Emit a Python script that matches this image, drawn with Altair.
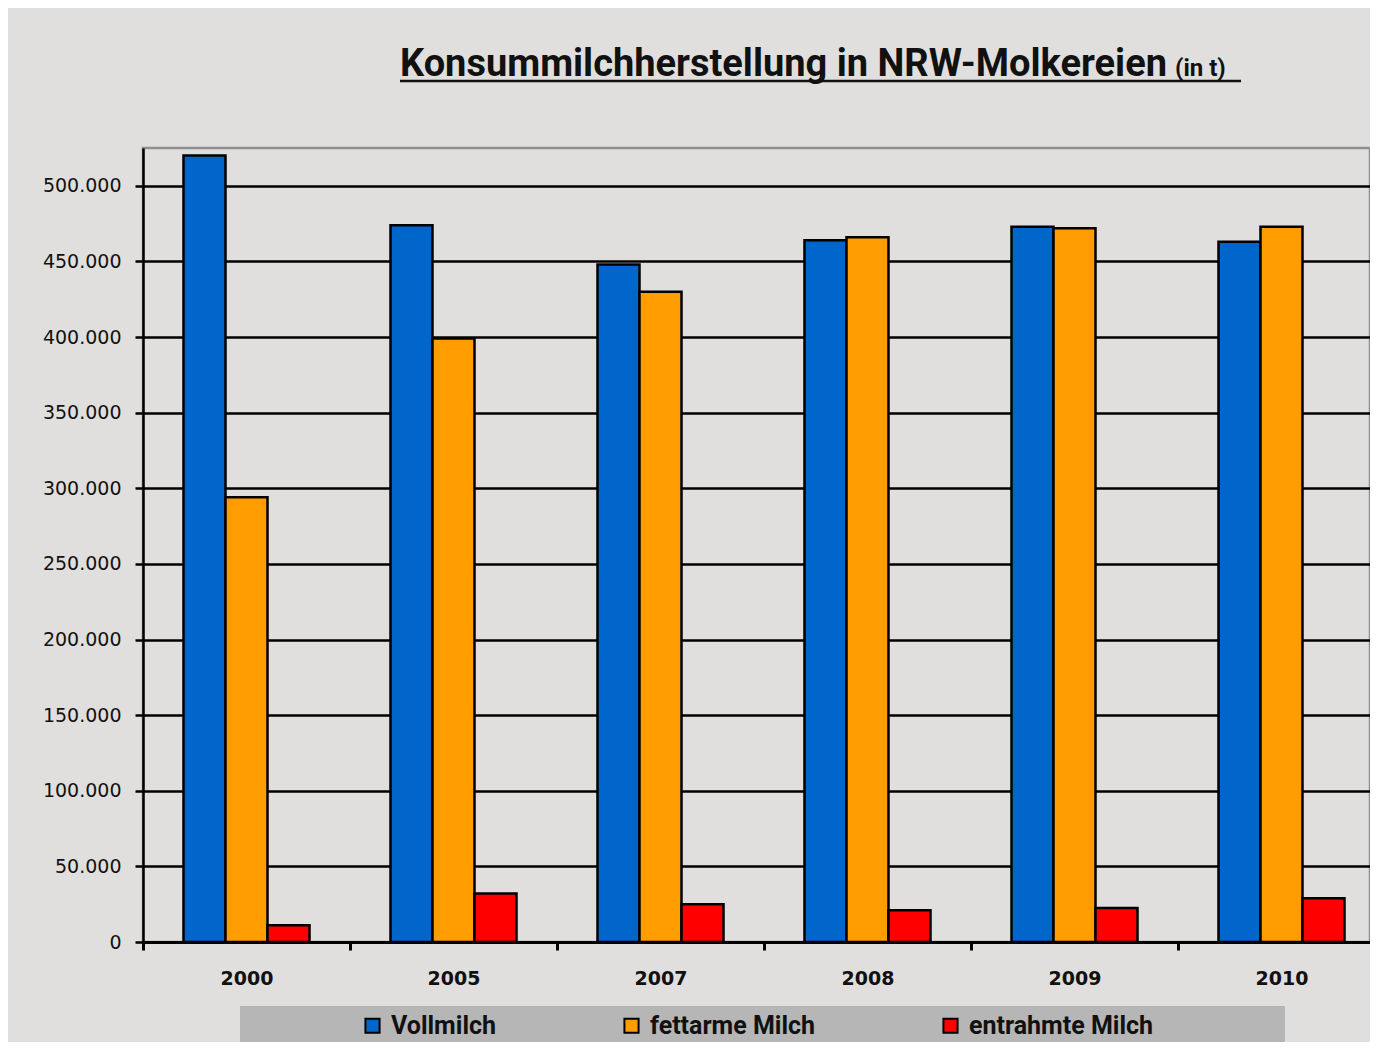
import altair as alt
import pandas as pd

years = ["2000", "2005", "2007", "2008", "2009", "2010"]
series = ["Vollmilch", "fettarme Milch", "entrahmte Milch"]
vollmilch = [520000, 474000, 448000, 464000, 473000, 463000]
fettarme = [294000, 399000, 430000, 466000, 472000, 473000]
entrahmte = [11000, 32000, 25000, 21000, 22500, 29000]
colors = ["#0066CC", "#FF9C00", "#FF0000"]
y_ticks = [0, 50000, 100000, 150000, 200000, 250000, 300000, 350000, 400000, 450000, 500000]

rows = []
for name, vals in zip(series, [vollmilch, fettarme, entrahmte]):
    for yr, v in zip(years, vals):
        rows.append({"Jahr": yr, "Sorte": name, "Menge": v})
df = pd.DataFrame(rows)

TF = "Roboto, 'Open Sans', sans-serif"
W, H = 1227, 794

bars = alt.Chart(df).mark_bar(stroke="black", strokeWidth=2.5).encode(
    x=alt.X("Jahr:N", sort=years, title=None,
            scale=alt.Scale(range=[0, 1242], paddingInner=0, paddingOuter=0),
            axis=alt.Axis(labelAngle=0, labelFont="DejaVu Sans", labelFontWeight="bold",
                          labelFontSize=19, labelColor="#111", labelPadding=19,
                          tickBand="extent", tickSize=8, tickWidth=3, tickColor="black",
                          domainColor="black", domainWidth=3, grid=False)),
    xOffset=alt.XOffset("Sorte:N", sort=series,
                        scale=alt.Scale(paddingInner=0, paddingOuter=0.964)),
    y=alt.Y("Menge:Q", title=None,
            scale=alt.Scale(domain=[0, 525000], nice=False),
            axis=alt.Axis(values=y_ticks, format=",d",
                          labelExpr="replace(datum.label, ',', '.')",
                          labelFont="DejaVu Sans", labelFontSize=19, labelColor="#111",
                          labelPadding=14, tickSize=8, tickWidth=2.5, tickColor="black",
                          domainColor="black", domainWidth=2.5,
                          grid=True, gridColor="black", gridWidth=2.5)),
    color=alt.Color("Sorte:N", sort=series,
                    scale=alt.Scale(domain=series, range=colors),
                    legend=alt.Legend(title=None, orient="none", legendX=217, legendY=865,
                                      direction="horizontal", symbolType="square",
                                      symbolSize=200, symbolStrokeColor="black",
                                      symbolStrokeWidth=2, labelFont=TF, labelFontSize=25,
                                      labelFontWeight="bold", labelColor="#111",
                                      labelLimit=400, columnPadding=122, labelOffset=6,
                                      padding=0)),
)

one = alt.Data(values=[{"a": 1}])

legend_box = alt.Chart(one).mark_rect(color="#b6b6b6").encode(
    x=alt.value(97), x2=alt.value(1142), y=alt.value(858), y2=alt.value(940)
)

title_main = alt.Chart(one).mark_text(
    text="Konsummilchherstellung in NRW-Molkereien", align="left", baseline="alphabetic",
    font=TF, fontSize=38, fontWeight="bold", color="#111"
).encode(x=alt.value(257), y=alt.value(-72))

title_unit = alt.Chart(one).mark_text(
    text="(in t)", align="left", baseline="alphabetic",
    font=TF, fontSize=24, fontWeight="bold", color="#111"
).encode(x=alt.value(1032), y=alt.value(-72))

underline = alt.Chart(one).mark_rule(color="#111", strokeWidth=2.5).encode(
    x=alt.value(257), x2=alt.value(1098), y=alt.value(-67)
)

chart = alt.layer(legend_box, bars, title_main, title_unit, underline).properties(
    width=W, height=H,
    autosize=alt.AutoSizeParams(type="none"),
    padding={"left": 135, "top": 140, "right": 0, "bottom": 100},
    background="#e1dfde",
).configure_view(stroke="#8f8f8f", strokeWidth=2.5)

chart.save("out.html", embed_options={"renderer": "svg", "actions": False})
